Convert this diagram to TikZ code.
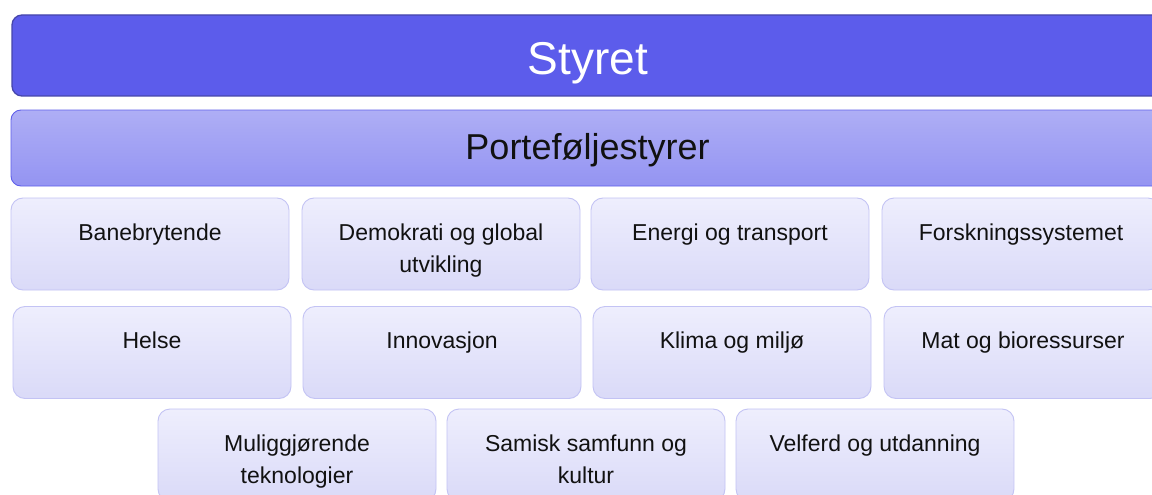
\documentclass[tikz,border=0pt]{standalone}
\usepackage{fontspec}
\setmainfont{Liberation Sans}
\definecolor{topfill}{HTML}{5C5CEB}
\definecolor{topdraw}{HTML}{4646AC}
\definecolor{midtop}{HTML}{AEAEF5}
\definecolor{midbot}{HTML}{9494F2}
\definecolor{middraw}{HTML}{5F5FEA}
\definecolor{smtop}{HTML}{EEEEFD}
\definecolor{smbot}{HTML}{DADAF8}
\definecolor{smdraw}{HTML}{C3C3F4}
\definecolor{txt}{HTML}{111111}
\newcommand\boxtext[1]{\parbox[c][92pt][t]{270pt}{\centering\fontsize{23}{32}\selectfont\rule{0pt}{42pt}#1}}
\tikzset{
  topbox/.style={draw=topdraw, line width=1.3pt, fill=topfill, rounded corners=10pt,
    minimum width=1152pt, minimum height=81pt, inner sep=0pt, text=white,
    font=\fontsize{46}{50}\selectfont, text height=39pt, text depth=0pt},
  midbox/.style={draw=middraw, line width=0.9pt, top color=midtop, bottom color=midbot,
    rounded corners=10pt, minimum width=1153pt, minimum height=76pt, inner sep=0pt, text=txt,
    font=\fontsize{36}{40}\selectfont, text height=22pt, text depth=0pt},
  smallbox/.style={draw=smdraw, line width=0.9pt, top color=smtop, bottom color=smbot,
    rounded corners=12pt, minimum width=278pt, inner sep=0pt, text=txt}
}
\begin{document}
\begin{tikzpicture}[x=1pt,y=-1pt]
\useasboundingbox (0,0) rectangle (1152,495);
\clip (0,0) rectangle (1152,495);
\fill[white] (0,0) rectangle (1152,495);
\node[topbox] (styret) at (588,55.5) {Styret};
\node[midbox] (porte) at (587.5,148) {Porteføljestyrer};
% row 1
\node[smallbox] (bane) at (150,244) {\boxtext{Banebrytende}};
\node[smallbox] (demo) at (441,244) {\boxtext{Demokrati og global\\utvikling}};
\node[smallbox] (energi) at (730,244) {\boxtext{Energi og transport}};
\node[smallbox] (forsk) at (1021,244) {\boxtext{Forskningssystemet}};
% row 2
\node[smallbox] (helse) at (152,352.5) {\boxtext{Helse}};
\node[smallbox] (innov) at (442,352.5) {\boxtext{Innovasjon}};
\node[smallbox] (klima) at (732,352.5) {\boxtext{Klima og miljø}};
\node[smallbox] (mat) at (1023,352.5) {\boxtext{Mat og bioressurser}};
% row 3
\node[smallbox] (mulig) at (297,455) {\boxtext{Muliggjørende\\teknologier}};
\node[smallbox] (samisk) at (586,455) {\boxtext{Samisk samfunn og\\kultur}};
\node[smallbox] (velferd) at (875,455) {\boxtext{Velferd og utdanning}};
\end{tikzpicture}
\end{document}
